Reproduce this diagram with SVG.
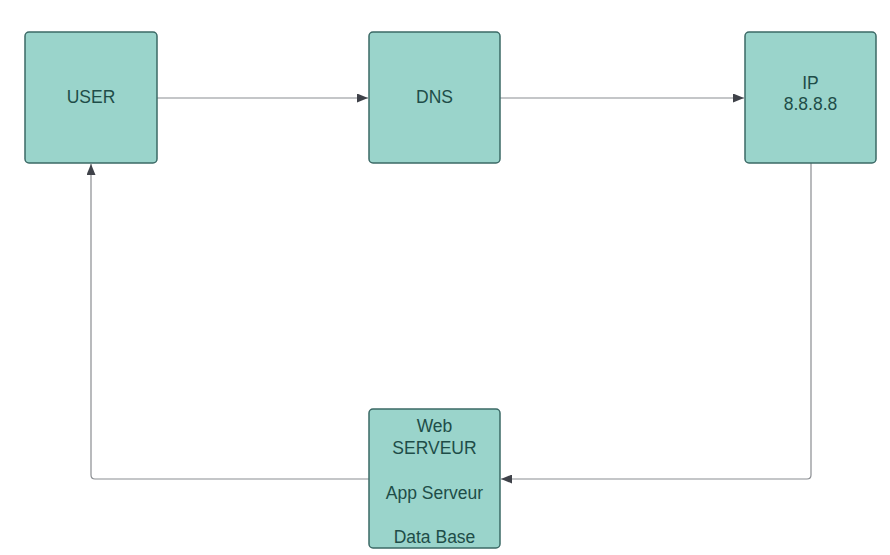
<svg xmlns="http://www.w3.org/2000/svg" width="890" height="555" viewBox="0 0 890 555">
<style>
.node rect{fill:#9ad4cb;stroke:#3b6966;stroke-width:1.5}
.node text{font-family:"Liberation Sans",Arial,sans-serif;font-size:17.5px;fill:#1e4d48;text-anchor:middle}
.conn path{fill:none;stroke:#8a8d91;stroke-width:1.2}
</style>
<defs>
<marker id="arr" viewBox="0 0 11 9" refX="11" refY="4.5" markerWidth="11" markerHeight="9" markerUnits="userSpaceOnUse" orient="auto">
<path d="M0,0 L11,4.5 L0,9 z" fill="#3f4249"/>
</marker>
</defs>
<rect width="890" height="555" fill="#ffffff"/>
<g class="conn">
<path d="M157,98 H368" marker-end="url(#arr)"/>
<path d="M500,98 H744" marker-end="url(#arr)"/>
<path d="M811,163 V475 Q811,479 807,479 H501" marker-end="url(#arr)"/>
<path d="M369,479 H95 Q91,479 91,475 V164" marker-end="url(#arr)"/>
</g>
<g id="user" class="node">
<rect x="25" y="32" width="132" height="131" rx="4"/>
<text x="91" y="103">USER</text>
</g>
<g id="dns" class="node">
<rect x="369" y="32" width="131" height="131" rx="4"/>
<text x="434.5" y="103">DNS</text>
</g>
<g id="ip" class="node">
<rect x="745" y="32" width="131" height="131" rx="4"/>
<text x="810.5" y="89">IP</text>
<text x="810.5" y="110">8.8.8.8</text>
</g>
<g id="web" class="node">
<rect x="369" y="409" width="131" height="139" rx="4"/>
<text x="434.5" y="432">Web</text>
<text x="434.5" y="454">SERVEUR</text>
<text x="434.5" y="499">App Serveur</text>
<text x="434.5" y="543">Data Base</text>
</g>
</svg>
